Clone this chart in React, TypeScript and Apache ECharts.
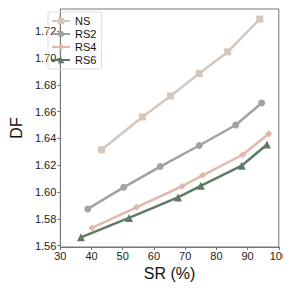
import React, { useEffect, useRef } from "react";
import * as echarts from "echarts";

const seriesNames = ["NS", "RS2", "RS4", "RS6"];
const nsData = [[43.2, 1.6315], [56.3, 1.656], [65.3, 1.6716], [74.5, 1.6884], [83.6, 1.7045], [93.9, 1.729]];
const rs2Data = [[38.8, 1.5874], [50.3, 1.6035], [62.0, 1.619], [74.5, 1.6347], [86.2, 1.65], [94.5, 1.6664]];
const rs4Data = [[40.1, 1.5732], [54.4, 1.5886], [69.0, 1.6043], [75.6, 1.6125], [88.4, 1.6278], [96.8, 1.6435]];
const rs6Data = [[36.6, 1.5662], [52.0, 1.5807], [67.7, 1.596], [75.0, 1.6046], [88.1, 1.6196], [96.2, 1.6355]];
const yTicks = [1.56, 1.58, 1.6, 1.62, 1.64, 1.66, 1.68, 1.7, 1.72];
const colors = ["#d3c7be", "#a2a2a2", "#e1b8ad", "#5e7a67"];
const symbols = ["rect", "circle", "diamond", "triangle"];

export default function App() {
  const ref = useRef<HTMLDivElement>(null);
  useEffect(() => {
    if (!ref.current) return;
    const chart = echarts.init(ref.current, undefined, { renderer: "svg" });
    const datas = [nsData, rs2Data, rs4Data, rs6Data];
    const font = "Liberation Sans, Arial, sans-serif";
    chart.setOption({
      animation: false,
      grid: { left: 43, right: 8, top: 9, bottom: 44, show: true, borderColor: "#777", borderWidth: 1 },
      legend: {
        orient: "vertical",
        left: 48,
        top: 12,
        itemWidth: 18,
        itemHeight: 8,
        itemGap: 1,
        padding: [3, 5, 3, 3],
        borderColor: "#dddddd",
        borderWidth: 1,
        borderRadius: 2,
        textStyle: { fontFamily: font, fontSize: 11, color: "#111", lineHeight: 12 },
        data: seriesNames,
      },
      xAxis: {
        type: "value",
        min: 30,
        max: 100,
        interval: 10,
        name: "SR (%)",
        nameLocation: "middle",
        nameGap: 13,
        nameTextStyle: { fontFamily: font, fontSize: 16, color: "#111", verticalAlign: "top" },
        axisLine: { show: true, lineStyle: { color: "#777" } },
        axisTick: { show: true, length: 3, lineStyle: { color: "#777" } },
        axisLabel: { fontFamily: font, fontSize: 11, color: "#222", margin: 3 },
        splitLine: { show: false },
      },
      yAxis: {
        type: "value",
        min: 1.559,
        max: 1.7365,
        name: "DF",
        nameLocation: "middle",
        nameGap: 33,
        nameTextStyle: { fontFamily: font, fontSize: 16, color: "#111" },
        axisLine: { show: true, lineStyle: { color: "#777" } },
        axisTick: { show: true, length: 3, lineStyle: { color: "#777" }, customValues: yTicks },
        axisLabel: {
          fontFamily: font,
          fontSize: 11,
          color: "#222",
          margin: 4,
          customValues: yTicks,
          formatter: (v: number) => v.toFixed(2),
        },
        splitLine: { show: false },
      },
      series: seriesNames.map((n, i) => ({
        name: n,
        type: "line",
        data: datas[i],
        symbol: symbols[i],
        symbolSize: i === 3 ? 8 : 7,
        color: colors[i],
        lineStyle: { width: 2.5, color: colors[i] },
        itemStyle: { color: colors[i] },
      })),
    });
    return () => chart.dispose();
  }, []);
  return <div ref={ref} style={{ width: 291, height: 291, margin: -8 }} />;
}
